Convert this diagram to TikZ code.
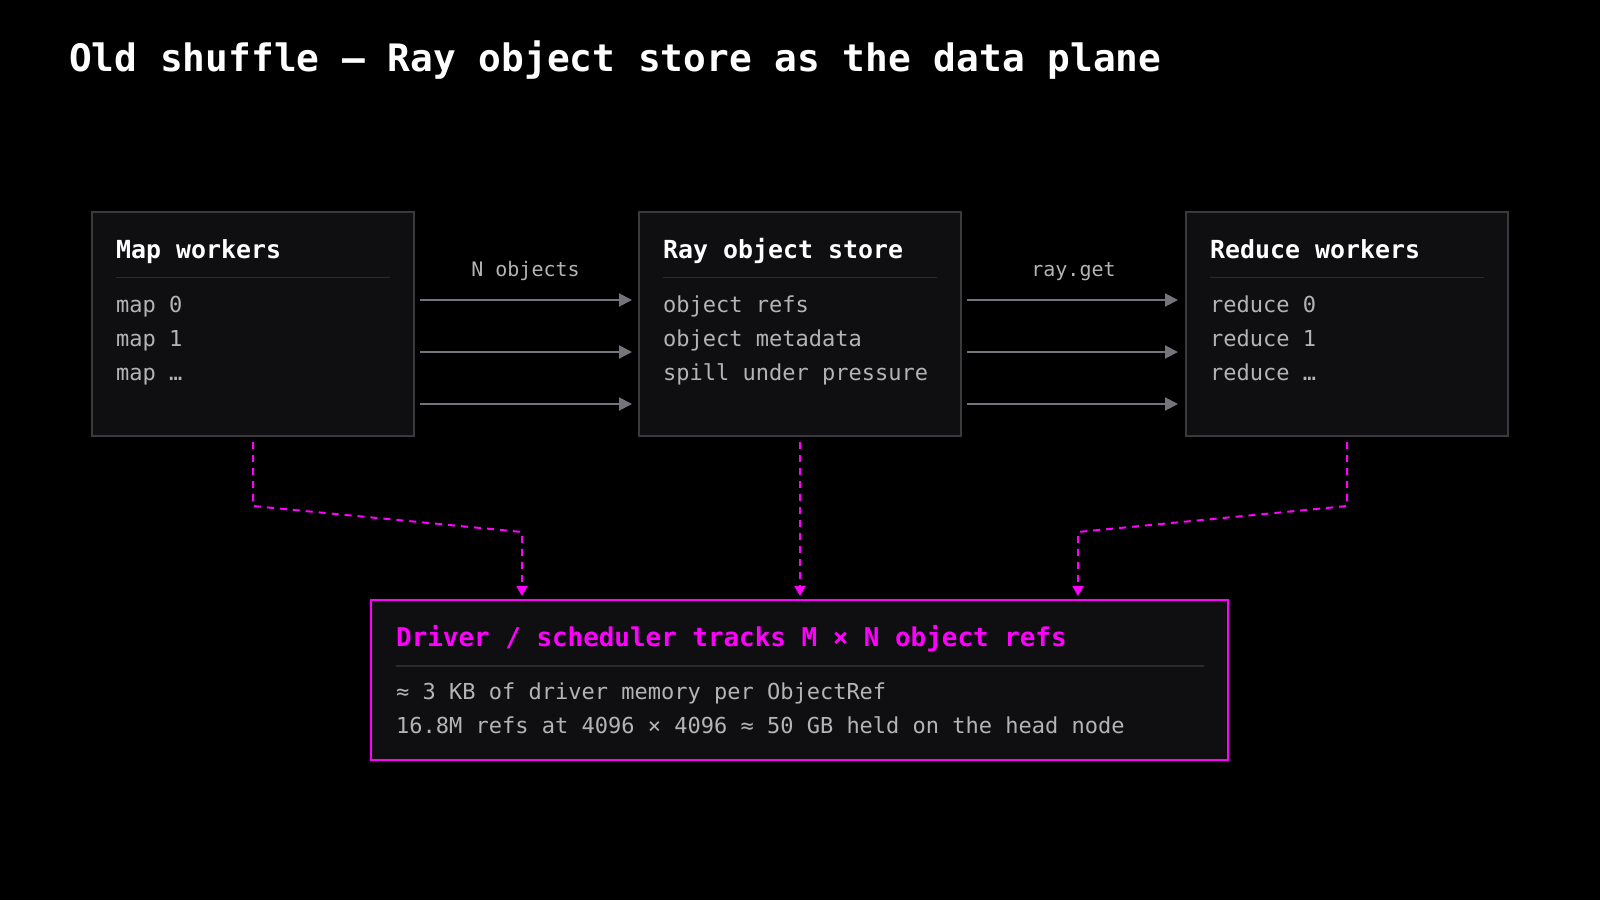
\documentclass[tikz,border=0pt]{standalone}
\usepackage{fontspec}
\setmonofont{DejaVu Sans Mono}
\setmainfont{DejaVu Sans Mono}
\usetikzlibrary{arrows.meta,calc}
\definecolor{boxfill}{HTML}{0F0F11}
\definecolor{boxline}{HTML}{3A3A3C}
\definecolor{sepline}{HTML}{2A2A2C}
\definecolor{bodytext}{HTML}{B4B4B4}
\definecolor{arrgray}{HTML}{74747C}
\definecolor{mag}{HTML}{FF00FF}
\tikzset{
  panel/.style={draw=boxline, line width=2pt, fill=boxfill, inner sep=0pt, outer sep=0pt},
  drvpanel/.style={draw=mag, line width=2.5pt, fill=boxfill, inner sep=0pt, outer sep=0pt},
  ttl/.style={anchor=base west, inner sep=0pt, text=white, font=\fontsize{24.9}{28}\selectfont\bfseries},
  body/.style={anchor=base west, inner sep=0pt, text=bodytext, font=\fontsize{22}{26}\selectfont},
  lbl/.style={anchor=base, inner sep=0pt, text=bodytext, font=\fontsize{20}{24}\selectfont},
  sepl/.style={draw=sepline, line width=1.5pt},
  garrow/.style={draw=arrgray, line width=2pt, -{Triangle[length=13pt,width=13pt]}},
  marrow/.style={draw=mag, line width=2pt, dash pattern=on 7pt off 6pt, -{Triangle[length=10pt,width=11pt]}},
}
\begin{document}
\begin{tikzpicture}[x=1pt,y=-1pt]
\fill[black] (0,0) rectangle (1600,900);
\useasboundingbox (0,0) rectangle (1600,900);

% title
\node[anchor=base west, inner sep=0pt, text=white, font=\fontsize{37.8}{44}\selectfont\bfseries] (title) at (69,71.5) {Old shuffle — Ray object store as the data plane};

% boxes
\node[panel, minimum width=322pt, minimum height=224pt] (map) at (253,324) {};
\node[panel, minimum width=322pt, minimum height=224pt] (ray) at (800,324) {};
\node[panel, minimum width=322pt, minimum height=224pt] (red) at (1347,324) {};
\node[drvpanel, minimum width=857pt, minimum height=160pt] (drv) at (799.5,680) {};

% map box content
\node[ttl] (maptitle) at (116,258) {Map workers};
\draw[sepl] (116,277.5) -- (390,277.5);
\node[body] (map0) at (116,312) {map 0};
\node[body] (map1) at (116,346) {map 1};
\node[body] (mapn) at (116,380) {map …};

% ray box content
\node[ttl] (raytitle) at (663,258) {Ray object store};
\draw[sepl] (663,277.5) -- (937,277.5);
\node[body] (ray0) at (663,312) {object refs};
\node[body] (ray1) at (663,346) {object metadata};
\node[body] (ray2) at (663,380) {spill under pressure};

% reduce box content
\node[ttl] (redtitle) at (1210,258) {Reduce workers};
\draw[sepl] (1210,277.5) -- (1484,277.5);
\node[body] (red0) at (1210,312) {reduce 0};
\node[body] (red1) at (1210,346) {reduce 1};
\node[body] (redn) at (1210,380) {reduce …};

% driver box content
\node[anchor=base west, inner sep=0pt, text=mag, font=\fontsize{25.9}{30}\selectfont\bfseries] (drvtitle) at (396,646) {Driver / scheduler tracks M × N object refs};
\draw[sepl] (396,666) -- (1204,666);
\node[body] (drv0) at (396,699.5) {≈ 3 KB of driver memory per ObjectRef};
\node[body] (drv1) at (396,733) {16.8M refs at 4096 × 4096 ≈ 50 GB held on the head node};

% arrow labels
\node[lbl] (lblN) at (525.5,276) {N objects};
\node[lbl] (lblG) at (1073.5,276) {ray.get};

% gray arrows
\foreach \dy in {24,-28,-80}{
  \draw[garrow] ([xshift=6pt,yshift=\dy pt]map.east) -- ([xshift=-7pt,yshift=\dy pt]ray.west);
  \draw[garrow] ([xshift=6pt,yshift=\dy pt]ray.east) -- ([xshift=-8pt,yshift=\dy pt]red.west);
}

% magenta dashed connectors
\coordinate (l1) at (253,506);
\coordinate (l2) at (522,532);
\coordinate (r1) at (1347,506);
\coordinate (r2) at (1078,532);
\draw[marrow, shorten <=6pt, shorten >=4pt] (map.south) -- (l1) -- (l2) -- (l2 |- drv.north);
\draw[marrow, shorten <=6pt, shorten >=4pt] (ray.south) -- (ray.south |- drv.north);
\draw[marrow, shorten <=6pt, shorten >=4pt] (red.south) -- (r1) -- (r2) -- (r2 |- drv.north);
\end{tikzpicture}
\end{document}
